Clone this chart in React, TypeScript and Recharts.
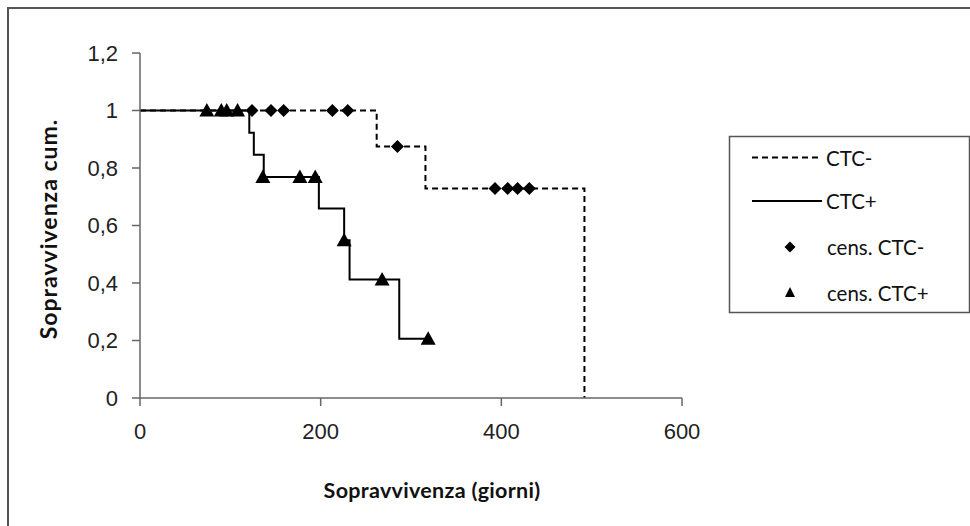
import React from 'react';
import { ComposedChart, Line, Scatter, XAxis, YAxis } from 'recharts';

// Kaplan-Meier steps, days vs cumulative survival
const ctcNegDays = [0, 262, 316, 492];
const ctcNegSurv = [1, 0.875, 0.729, 0];
const ctcPosDays = [0, 121, 126, 137, 198, 226, 232, 287, 319];
const ctcPosSurv = [1, 0.923, 0.846, 0.769, 0.659, 0.549, 0.412, 0.206, 0.206];

// censored observations
const censNegDays = [124, 145, 159, 213, 230, 285, 393, 407, 418, 431];
const censNegSurv = [1, 1, 1, 1, 1, 0.875, 0.729, 0.729, 0.729, 0.729];
const censPosDays = [74, 90, 96, 108, 136, 177, 194, 226, 268, 319];
const censPosSurv = [1, 1, 1, 1, 0.769, 0.769, 0.769, 0.549, 0.412, 0.206];

const xTicks = [0, 200, 400, 600];
const yTicks = [0, 0.2, 0.4, 0.6, 0.8, 1, 1.2];

const legendLabels = ['CTC-', 'CTC+', 'cens. CTC-', 'cens. CTC+'];

const zip = (days: number[], surv: number[]) => days.map((d, i) => ({ day: d, surv: surv[i] }));

const ctcNeg = zip(ctcNegDays, ctcNegSurv);
const ctcPos = zip(ctcPosDays, ctcPosSurv);
const censNeg = zip(censNegDays, censNegSurv);
const censPos = zip(censPosDays, censPosSurv);

const axisColor = '#666';
const titleFont = 'Lato, "Open Sans", sans-serif';
const tickFont = '"Liberation Sans", Arial, sans-serif';

function Diamond({ cx, cy }: any) {
  const r = 6.5;
  return <polygon points={`${cx},${cy - r} ${cx + r},${cy} ${cx},${cy + r} ${cx - r},${cy}`} fill="#000" />;
}

function Triangle({ cx, cy }: any) {
  return <polygon points={`${cx},${cy - 7.5} ${cx + 7.5},${cy + 6} ${cx - 7.5},${cy + 6}`} fill="#000" />;
}

function LegendBox() {
  const rows = [21.5, 65, 111, 156.5];
  return (
    <svg width={238} height={177} style={{ position: 'absolute', left: 729, top: 136, overflow: 'visible' }}>
      <rect x={0.5} y={0.5} width={240} height={176} fill="#fff" stroke="#555" strokeWidth={1.5} />
      <line x1={23} x2={93} y1={rows[0]} y2={rows[0]} stroke="#000" strokeWidth={2} strokeDasharray="6 4" />
      <line x1={23} x2={93} y1={rows[1]} y2={rows[1]} stroke="#000" strokeWidth={2} />
      <polygon points={`61,${rows[2] - 5.5} 66.5,${rows[2]} 61,${rows[2] + 5.5} 55.5,${rows[2]}`} fill="#000" />
      <polygon points={`61,${rows[3] - 5.5} 66,${rows[3] + 4.5} 56,${rows[3] + 4.5}`} fill="#000" />
      {legendLabels.map((t, i) => (
        <text key={t} x={i < 2 ? 97 : 98} y={rows[i]} dominantBaseline="central" fontFamily={titleFont} fontSize={20.5} fill="#111">
          {t}
        </text>
      ))}
    </svg>
  );
}

export default function App() {
  return (
    <div style={{ position: 'absolute', left: 0, top: 0, width: 970, height: 526, background: '#fff', overflow: 'hidden' }}>
      <div style={{ position: 'absolute', left: 7, top: 7, right: -10, bottom: -10, borderLeft: '2px solid #555', borderTop: '2px solid #555' }} />
      <ComposedChart width={970} height={526} margin={{ top: 53, right: 288, left: 80, bottom: 97 }}>
        <XAxis
          type="number"
          dataKey="day"
          domain={[0, 600]}
          ticks={xTicks}
          height={31}
          stroke={axisColor}
          strokeWidth={1.5}
          tickSize={8}
          tickMargin={17}
          tick={{ fontSize: 22, fill: '#222', fontFamily: tickFont }}
        />
        <YAxis
          type="number"
          dataKey="surv"
          domain={[0, 1.2]}
          ticks={yTicks}
          width={60}
          stroke={axisColor}
          strokeWidth={1.5}
          tickSize={8}
          tickMargin={14}
          tickFormatter={(v: number) => String(Math.round(v * 10) / 10).replace('.', ',')}
          tick={{ fontSize: 22, fill: '#222', fontFamily: tickFont }}
        />
        <Line data={ctcNeg} dataKey="surv" type="stepAfter" stroke="#000" strokeWidth={2} strokeDasharray="6 4" dot={false} isAnimationActive={false} />
        <Line data={ctcPos} dataKey="surv" type="stepAfter" stroke="#000" strokeWidth={2} dot={false} isAnimationActive={false} />
        <Scatter data={censNeg} dataKey="surv" shape={<Diamond />} isAnimationActive={false} />
        <Scatter data={censPos} dataKey="surv" shape={<Triangle />} isAnimationActive={false} />
      </ComposedChart>
      <LegendBox />
      <div style={{ position: 'absolute', left: 48, top: 229, transform: 'translate(-50%, -50%) rotate(-90deg)', whiteSpace: 'nowrap', fontFamily: titleFont, fontWeight: 700, fontSize: 23, letterSpacing: 1, color: '#111' }}>
        Sopravvivenza cum.
      </div>
      <div style={{ position: 'absolute', left: 432, top: 490, transform: 'translate(-50%, -50%)', whiteSpace: 'nowrap', fontFamily: titleFont, fontWeight: 700, fontSize: 21.5, letterSpacing: 0.3, color: '#111' }}>
        Sopravvivenza (giorni)
      </div>
    </div>
  );
}
